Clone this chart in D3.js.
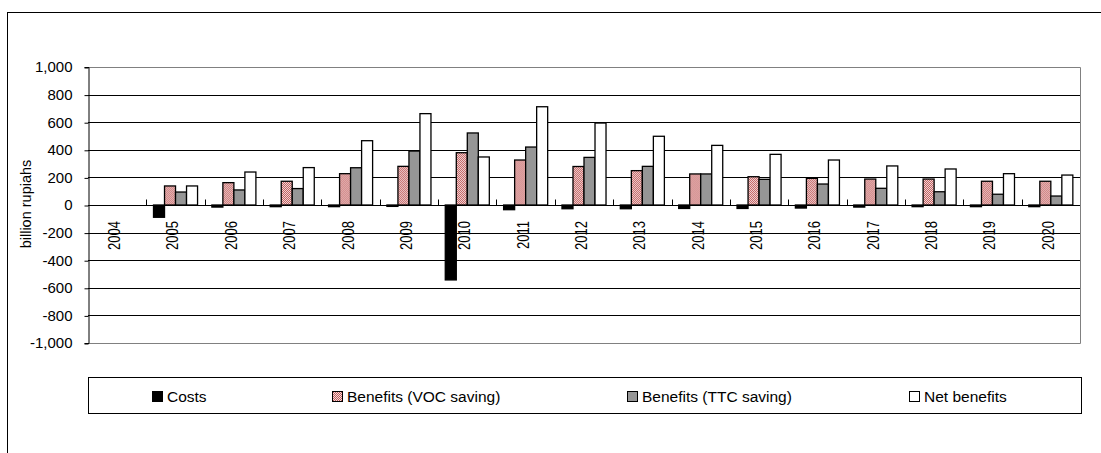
<!DOCTYPE html>
<html>
<head>
<meta charset="utf-8">
<script src="https://cdn.jsdelivr.net/npm/d3@7"></script>
<style>
  html, body { margin: 0; padding: 0; background: #fff; }
  svg { display: block; font-family: "Liberation Sans", Arial, sans-serif; }
</style>
</head>
<body>
<svg id="chart" width="1101" height="453"></svg>
<script>
// Annual costs and benefits, billion rupiahs
const years = ["2004","2005","2006","2007","2008","2009","2010","2011","2012","2013","2014","2015","2016","2017","2018","2019","2020"];
const costs = [0, -89, -15, -12, -12, -10, -543, -34, -27, -27, -25, -25, -22, -15, -12, -12, -12];
const vocSaving = [0, 138, 162, 172, 227, 280, 379, 326, 279, 249, 225, 205, 193, 188, 188, 172, 172];
const ttcSaving = [0, 94, 109, 119, 270, 391, 522, 420, 345, 280, 225, 186, 152, 121, 96, 78, 65];
const netBenefits = [0, 138, 239, 271, 466, 662, 348, 712, 594, 498, 432, 367, 326, 283, 261, 227, 217];
const seriesNames = ["Costs", "Benefits (VOC saving)", "Benefits (TTC saving)", "Net benefits"];
const yTicks = [-1000, -800, -600, -400, -200, 0, 200, 400, 600, 800, 1000];
const yTitle = "billion rupiahs";

const svg = d3.select("#chart");

// pink checker fill for the VOC series
const defs = svg.append("defs");
const pat = defs.append("pattern")
  .attr("id", "vocFill").attr("patternUnits", "userSpaceOnUse")
  .attr("width", 2).attr("height", 2);
pat.append("rect").attr("width", 2).attr("height", 2).attr("fill", "#f3dede");
pat.append("rect").attr("x", 0).attr("y", 0).attr("width", 1).attr("height", 1).attr("fill", "#c05a5a");
pat.append("rect").attr("x", 1).attr("y", 1).attr("width", 1).attr("height", 1).attr("fill", "#c05a5a");

const fills = ["#000000", "url(#vocFill)", "#969696", "#ffffff"];
const seriesData = [costs, vocSaving, ttcSaving, netBenefits];

// outer chart frame
svg.append("rect")
  .attr("x", 7.5).attr("y", 12.5).attr("width", 1200).attr("height", 600)
  .attr("fill", "none").attr("stroke", "#000").attr("stroke-width", 1);

const plot = { left: 88, right: 1080, top: 67, bottom: 343 };

const x = d3.scaleBand().domain(years).range([plot.left, plot.right]).paddingInner(0).paddingOuter(0);
const xs = d3.scaleBand().domain(d3.range(seriesNames.length)).range([0, x.bandwidth()])
  .paddingInner(0).paddingOuter(0.65);
const y = d3.scaleLinear().domain([-1000, 1000]).range([plot.bottom, plot.top]);

// thousands separator with a plain hyphen for negatives
const locale = d3.formatLocale({ decimal: ".", thousands: ",", grouping: [3], currency: ["", ""], minus: "-" });
const fmt = locale.format(",");

// horizontal gridlines
svg.append("g").selectAll("line").data(yTicks).join("line")
  .attr("x1", plot.left).attr("x2", plot.right)
  .attr("y1", d => Math.round(y(d)) + 0.5).attr("y2", d => Math.round(y(d)) + 0.5)
  .attr("stroke", "#000").attr("stroke-width", 1);

// plot area border (top, right, bottom)
svg.append("path")
  .attr("d", `M${plot.left},${Math.round(y(1000)) + 0.5}H${plot.right + 0.5}V${Math.round(y(-1000)) + 0.5}H${plot.left}`)
  .attr("fill", "none").attr("stroke", "#808080").attr("stroke-width", 1);

// y axis
const yAxis = d3.axisLeft(y).tickValues(yTicks).tickSize(4).tickPadding(12).tickFormat(fmt);
const gy = svg.append("g").attr("transform", `translate(${plot.left + 0.5},0)`).call(yAxis);
gy.select(".domain").attr("stroke", "#000");
gy.selectAll(".tick line").attr("stroke", "#000").attr("transform", "translate(0,0.5)");
gy.selectAll(".tick text")
  .attr("font-size", 15).attr("font-family", "Liberation Sans, Arial, sans-serif").attr("fill", "#000");

// y axis title
svg.append("text")
  .attr("transform", `translate(31,${y(0) - 1}) rotate(-90)`)
  .attr("text-anchor", "middle")
  .attr("font-size", 14.5).attr("fill", "#000")
  .text(yTitle);

// bars
const groups = svg.append("g").selectAll("g").data(years).join("g")
  .attr("transform", d => `translate(${x(d)},0)`);
groups.each(function(yr, i) {
  const g = d3.select(this);
  seriesData.forEach((vals, s) => {
    const v = vals[i];
    if (v === 0) return;
    const y0 = y(0), y1 = y(v);
    g.append("rect")
      .attr("x", xs(s)).attr("width", xs.bandwidth())
      .attr("y", Math.min(y0, y1)).attr("height", Math.abs(y1 - y0))
      .attr("fill", fills[s]).attr("stroke", "#000").attr("stroke-width", 1.3);
  });
});

// category axis at zero with upward ticks on category boundaries
const zeroY = Math.round(y(0)) + 0.5;
svg.append("line")
  .attr("x1", plot.left).attr("x2", plot.right).attr("y1", zeroY).attr("y2", zeroY)
  .attr("stroke", "#000").attr("stroke-width", 1);
svg.append("g").selectAll("line").data(years.slice(1)).join("line")
  .attr("x1", d => Math.round(x(d)) + 0.5).attr("x2", d => Math.round(x(d)) + 0.5)
  .attr("y1", zeroY).attr("y2", zeroY - 6)
  .attr("stroke", "#000").attr("stroke-width", 1);

// rotated year labels
svg.append("g").selectAll("text").data(years).join("text")
  .attr("transform", d => `translate(${x(d) + x.bandwidth() / 2 - 3},${y(0) + 16}) rotate(-90) scale(1,1.3)`)
  .attr("text-anchor", "end")
  .attr("dy", "0.35em")
  .attr("font-size", 13).attr("fill", "#000")
  .text(d => d);

// legend
const legend = { left: 88, right: 1081, top: 377, bottom: 413 };
svg.append("rect")
  .attr("x", legend.left + 0.5).attr("y", legend.top + 0.5)
  .attr("width", legend.right - legend.left).attr("height", legend.bottom - legend.top)
  .attr("fill", "#fff").attr("stroke", "#000").attr("stroke-width", 1);
const legendX = [152, 332, 627, 909];
const li = svg.append("g").selectAll("g").data(seriesNames).join("g")
  .attr("transform", (d, i) => `translate(${legendX[i]},${legend.top + 14})`);
li.append("rect")
  .attr("x", 0.5).attr("y", 0.5).attr("width", 10).attr("height", 10)
  .attr("fill", (d, i) => fills[i]).attr("stroke", "#000").attr("stroke-width", 1);
li.append("text")
  .attr("x", 15).attr("y", 11)
  .attr("font-size", 15.5).attr("fill", "#000")
  .text(d => d);
</script>
</body>
</html>
